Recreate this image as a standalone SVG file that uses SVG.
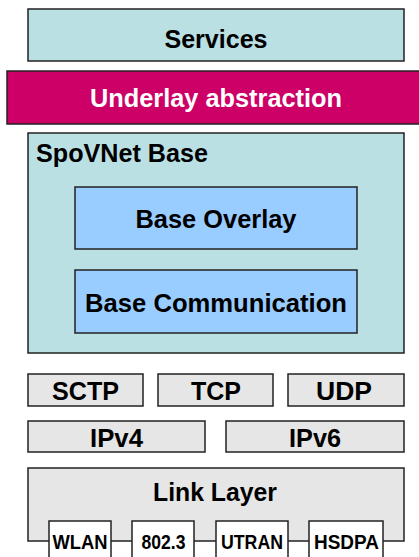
<svg xmlns="http://www.w3.org/2000/svg" width="419" height="557" viewBox="0 0 419 557">
<style>
rect{stroke:#222;stroke-width:1.5}
.teal{fill:#BBE0E3}
.mag{fill:#CC0066}
.blue{fill:#99CCFF}
.gray{fill:#E6E6E6}
.white{fill:#FFFFFF}
text{font-family:"Liberation Sans",Arial,sans-serif;font-weight:bold;fill:#000;text-anchor:middle}
.big{font-size:26px}
.small{font-size:21px}
</style>
<g id="services"><rect class="teal" x="28" y="9" width="376" height="52"/><text class="big" x="216" y="48" textLength="103" lengthAdjust="spacingAndGlyphs">Services</text></g>
<g id="underlay"><rect class="mag" x="7" y="71" width="414" height="53"/><text class="big" x="216" y="107" style="fill:#fff" textLength="252" lengthAdjust="spacingAndGlyphs">Underlay abstraction</text></g>
<g id="spovnet"><rect class="teal" x="28" y="133" width="376" height="220"/><text class="big" x="36" y="162" style="text-anchor:start" textLength="172" lengthAdjust="spacingAndGlyphs">SpoVNet Base</text></g>
<g id="baseoverlay"><rect class="blue" x="75" y="187" width="282" height="62"/><text class="big" x="216" y="228" textLength="161" lengthAdjust="spacingAndGlyphs">Base Overlay</text></g>
<g id="basecomm"><rect class="blue" x="75" y="270" width="282" height="63"/><text class="big" x="216" y="312" textLength="262" lengthAdjust="spacingAndGlyphs">Base Communication</text></g>
<g id="sctp"><rect class="gray" x="28" y="374" width="115" height="32"/><text class="big" x="85.5" y="400" textLength="67" lengthAdjust="spacingAndGlyphs">SCTP</text></g>
<g id="tcp"><rect class="gray" x="158" y="374" width="115" height="32"/><text class="big" x="216" y="400" textLength="50" lengthAdjust="spacingAndGlyphs">TCP</text></g>
<g id="udp"><rect class="gray" x="288" y="374" width="116" height="32"/><text class="big" x="344" y="400" textLength="56" lengthAdjust="spacingAndGlyphs">UDP</text></g>
<g id="ipv4"><rect class="gray" x="28" y="421" width="177" height="31"/><text class="big" x="116.5" y="447" textLength="53" lengthAdjust="spacingAndGlyphs">IPv4</text></g>
<g id="ipv6"><rect class="gray" x="226" y="421" width="178" height="31"/><text class="big" x="315" y="447" textLength="52" lengthAdjust="spacingAndGlyphs">IPv6</text></g>
<g id="linklayer"><rect class="gray" x="28" y="468" width="376" height="73"/><text class="big" x="215" y="501" textLength="124" lengthAdjust="spacingAndGlyphs">Link Layer</text></g>
<g id="wlan"><rect class="white" x="49" y="521" width="62" height="40"/><text class="small" x="80" y="549" textLength="55" lengthAdjust="spacingAndGlyphs">WLAN</text></g>
<g id="ieee8023"><rect class="white" x="132" y="521" width="62" height="40"/><text class="small" x="163.5" y="549" textLength="44" lengthAdjust="spacingAndGlyphs">802.3</text></g>
<g id="utran"><rect class="white" x="216" y="521" width="72" height="40"/><text class="small" x="252" y="549" textLength="62" lengthAdjust="spacingAndGlyphs">UTRAN</text></g>
<g id="hsdpa"><rect class="white" x="309" y="521" width="74" height="40"/><text class="small" x="346.5" y="549" textLength="65" lengthAdjust="spacingAndGlyphs">HSDPA</text></g>
<g id="connectors"></g>
</svg>
